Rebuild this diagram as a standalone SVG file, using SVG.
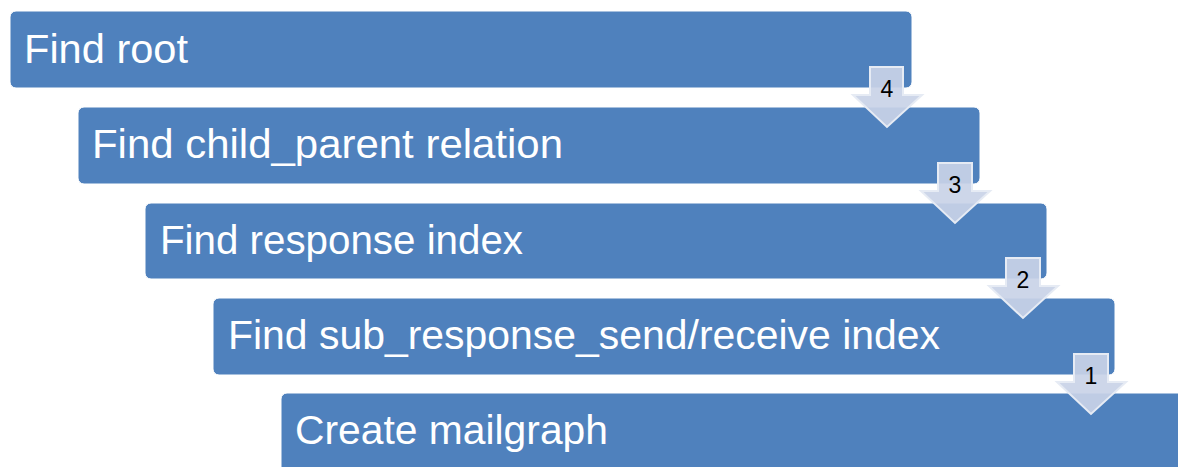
<svg xmlns="http://www.w3.org/2000/svg" width="1178" height="467" viewBox="0 0 1178 467">
<style>
.box{fill:#4f81bd;stroke:#ffffff;stroke-width:1}
.lbl{font-family:"Liberation Sans",Arial,sans-serif;font-size:41px;fill:#ffffff}
.arr{fill:#c9d3e7;fill-opacity:0.92;stroke:#e6ebf4;stroke-width:2;stroke-linejoin:miter}
.num{font-family:"Liberation Sans",Arial,sans-serif;font-size:23px;fill:#000000;text-anchor:middle}
</style>
<rect width="1178" height="467" fill="#ffffff"/>
<g id="node-find-root">
<rect class="box" x="10" y="11" width="902" height="77" rx="6"/>
<text class="lbl" x="24" y="63" textLength="164" lengthAdjust="spacingAndGlyphs">Find root</text>
</g>
<g id="node-child-parent">
<rect class="box" x="78" y="107" width="902" height="77" rx="6"/>
<text class="lbl" x="92" y="158" textLength="471" lengthAdjust="spacingAndGlyphs">Find child_parent relation</text>
</g>
<g id="node-response-index">
<rect class="box" x="145" y="203" width="902" height="76" rx="6"/>
<text class="lbl" x="160" y="254" textLength="363" lengthAdjust="spacingAndGlyphs">Find response index</text>
</g>
<g id="node-sub-response">
<rect class="box" x="213" y="298" width="902" height="77" rx="6"/>
<text class="lbl" x="228" y="349" textLength="712" lengthAdjust="spacingAndGlyphs">Find sub_response_send/receive index</text>
</g>
<g id="node-mailgraph">
<rect class="box" x="281" y="393" width="910" height="80" rx="6"/>
<text class="lbl" x="295" y="444" textLength="313" lengthAdjust="spacingAndGlyphs">Create mailgraph</text>
</g>
<g id="connectors">
<g id="arrow-4">
<path class="arr" d="M870,67 H903 V95 H922 L887,127 L853,95 H870 Z"/>
<text class="num" x="887" y="97">4</text>
</g>
<g id="arrow-3">
<path class="arr" d="M938,163 H972 V191 H990 L955,223 L921,191 H938 Z"/>
<text class="num" x="955" y="193">3</text>
</g>
<g id="arrow-2">
<path class="arr" d="M1006,258 H1040 V286 H1058 L1023,318 L989,286 H1006 Z"/>
<text class="num" x="1023" y="288">2</text>
</g>
<g id="arrow-1">
<path class="arr" d="M1074,354 H1108 V382 H1126 L1091,414 L1057,382 H1074 Z"/>
<text class="num" x="1091" y="384">1</text>
</g>
</g>
</svg>
